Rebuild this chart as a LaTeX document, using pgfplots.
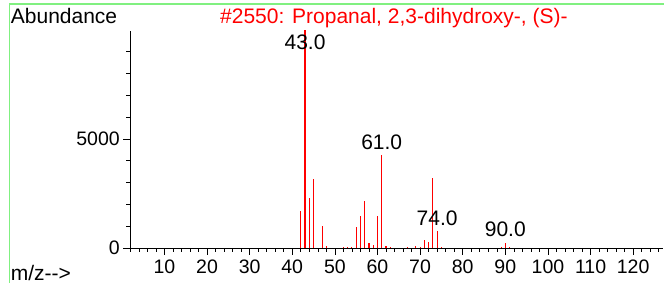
\documentclass[border=0pt]{standalone}
\usepackage{fontspec}
\setmainfont{Liberation Sans}
\usepackage{pgfplots}
\pgfplotsset{compat=1.18}
\definecolor{frameg}{RGB}{128,240,128}
\definecolor{specred}{RGB}{255,0,0}
\begin{document}
\begin{tikzpicture}[x=1pt,y=1pt]
\useasboundingbox (0,0) rectangle (664,283);
\draw[frameg, line width=1.5pt] (9.5,0) -- (9.5,279) -- (664,279);
\node[anchor=base west, inner sep=0pt, font=\fontsize{21}{24}\selectfont] at (10.7,2.5) {m/z-{}-{}>};
\node[anchor=base west, inner sep=0pt, font=\fontsize{21}{24}\selectfont] at (10.7,259) {Abundance};
\node[anchor=base west, inner sep=0pt, text=specred, font=\fontsize{21}{24}\selectfont] at (220,259) {\#2550: Propanal, 2,3-dihydroxy-, (S)-};
\begin{axis}[
 at={(130.3pt,35pt)}, anchor=south west, scale only axis,
 width=532.7pt, height=217pt,
 xmin=2, xmax=127, ymin=0, ymax=9950,
 axis x line=bottom, axis y line=left, axis line style={-, line width=0.8pt, black},
 xtick={10,20,...,120}, minor xtick={2,4,...,126},
 ytick={0,5000}, minor ytick={1000,2000,...,9000},
 tick align=outside, major tick length=7pt, minor tick length=4pt,
 tick style={black, line width=0.6pt},
 ticklabel style={font=\fontsize{19.5}{22}\selectfont},
 xticklabel style={yshift=-1.5pt},
 /pgf/number format/assume math mode=true,
 scaled y ticks=false, yticklabel style={/pgf/number format/1000 sep={}},
 clip mode=individual,
]
\addplot[ycomb, specred, line width=1.1pt, mark=none] coordinates {
(42,1680) (43,9999) (44,2280) (45,3150) (47,990) (48,80)
(52,30) (53,40) (54,40) (55,960) (56,1450) (57,2140) (58,230) (59,160) (60,1470) (61,4250) (62,110) (63,40)
(67,30) (69,80) (70,60) (71,380) (72,260) (73,3210) (74,770) (75,50)
(89,60) (90,250) (91,30)
};
\node[anchor=base, inner sep=0pt, font=\fontsize{21}{24}\selectfont] at (axis cs:43,9080) {43.0};
\node[anchor=base, inner sep=0pt, font=\fontsize{21}{24}\selectfont] at (axis cs:61,4530) {61.0};
\node[anchor=base, inner sep=0pt, font=\fontsize{21}{24}\selectfont] at (axis cs:74,1050) {74.0};
\node[anchor=base, inner sep=0pt, font=\fontsize{21}{24}\selectfont] at (axis cs:90,520) {90.0};
\end{axis}
\end{tikzpicture}
\end{document}
